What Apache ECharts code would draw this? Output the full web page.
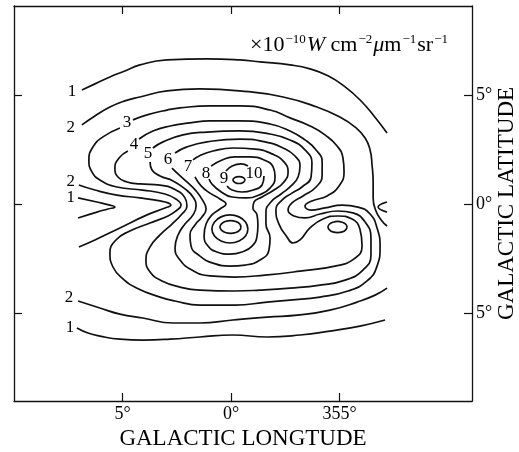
<!DOCTYPE html>
<html><head><meta charset="utf-8">
<script src="https://cdn.jsdelivr.net/npm/echarts@6/dist/echarts.min.js"></script>
<style>html,body{margin:0;padding:0;background:#fff}#c{width:519px;height:452px}</style>
</head><body><div id="c"></div>
<script>
// axis ticks (degrees; 355° = -5)
const lonTicks = [5, 0, -5];
const lonTickLabels = ['5°', '0°', '355°'];
const latTicks = [5, 0, -5];
const latTickLabels = ['5°', '0°', '5°'];

// contour lines [longitude, latitude]
const c1Upper = [[6.87,5.23],[6.27,5.51],[5.58,5.83],[4.89,6.10],[4.20,6.38],[2.95,6.61],[1.11,6.66],[-0.41,6.61],[-1.34,6.52],[-2.72,6.38],[-3.64,6.20],[-4.47,5.88],[-5.26,5.37],[-5.95,4.77],[-6.59,4.04],[-7.19,3.26]];
const c2Upper = [[6.87,3.63],[6.27,4.04],[5.58,4.45],[4.89,4.73],[4.20,4.91],[2.95,5.19],[1.43,5.28],[-0.41,5.19],[-2.40,4.91],[-3.96,4.45],[-5.02,3.99],[-5.72,3.53],[-6.18,3.03],[-6.41,2.48],[-6.50,1.79],[-6.55,1.01],[-6.55,0.28],[-6.68,-0.32],[-6.92,-0.73],[-7.19,-1.01]];
const c1RightNotch = [[-7.19,0.09],[-6.78,-0.14],[-7.19,-0.37]];
const c1LeftNotch = [[7.05,0.28],[6.18,0.09],[5.58,-0.05],[5.35,-0.14],[5.67,-0.23],[6.18,-0.37],[7.05,-0.64]];
const c2LeftNotch = [[7.01,0.87],[6.27,0.64],[5.26,0.41],[4.20,0.28],[3.27,0.14],[2.90,0.05],[2.77,-0.05],[3.04,-0.18],[3.87,-0.50],[5.12,-1.10],[6.27,-1.65],[7.01,-1.97]];
const c2Lower = [[7.05,-4.45],[6.04,-4.77],[5.12,-5.05],[4.06,-5.23],[2.67,-5.46],[1.43,-5.46],[-0.09,-5.32],[-1.66,-5.19],[-3.18,-5.09],[-4.56,-4.87],[-5.81,-4.50],[-6.64,-4.18],[-7.19,-3.86]];
const c1Lower = [[7.10,-5.69],[6.59,-5.92],[6.04,-6.06],[5.12,-6.20],[4.06,-6.24],[2.81,-6.20],[1.43,-6.10],[-0.09,-6.01],[-1.66,-6.10],[-3.18,-6.01],[-4.56,-5.83],[-5.94,-5.60],[-7.10,-5.32]];
const c3 = [[4.52,3.86],[3.87,4.09],[2.95,4.31],[2.35,4.41],[0.97,4.50],[-0.41,4.50],[-1.80,4.31],[-2.72,3.95],[-3.64,3.58],[-4.33,3.17],[-4.89,2.66],[-5.16,2.11],[-5.21,1.47],[-4.98,0.83],[-4.43,0.37],[-3.73,0.14],[-3.41,-0.09],[-3.69,-0.28],[-4.33,-0.18],[-5.12,-0.05],[-5.85,-0.14],[-6.41,-0.46],[-6.73,-1.10],[-6.87,-1.97],[-6.73,-2.85],[-6.27,-3.53],[-5.39,-3.99],[-4.10,-4.27],[-2.72,-4.41],[-1.66,-4.50],[-0.18,-4.64],[1.43,-4.64],[2.58,-4.45],[3.27,-4.27],[4.33,-3.86],[5.02,-3.40],[5.44,-2.89],[5.58,-2.25],[5.30,-1.65],[4.66,-1.24],[3.73,-0.87],[2.90,-0.55],[2.54,-0.32],[2.30,-0.05],[2.54,0.23],[3.04,0.46],[4.06,0.64],[5.26,0.78],[6.04,1.10],[6.41,1.47],[6.55,2.02],[6.36,2.62],[5.90,3.08],[5.12,3.49]];
const c4 = [[4.24,2.98],[3.60,3.35],[2.81,3.58],[1.89,3.72],[0.97,3.81],[-0.41,3.81],[-1.80,3.67],[-2.72,3.35],[-3.41,2.94],[-3.92,2.48],[-4.20,1.93],[-4.20,1.33],[-3.92,0.78],[-3.32,0.37],[-2.81,0.05],[-2.63,-0.28],[-2.90,-0.55],[-3.41,-0.64],[-4.10,-0.46],[-4.93,-0.32],[-5.62,-0.41],[-6.18,-0.83],[-6.45,-1.56],[-6.45,-2.34],[-6.08,-3.03],[-5.26,-3.49],[-4.10,-3.72],[-2.72,-3.86],[-1.34,-3.95],[-0.18,-3.99],[1.43,-3.95],[2.35,-3.81],[3.18,-3.53],[3.73,-3.12],[3.92,-2.57],[3.73,-1.97],[3.27,-1.42],[2.72,-0.92],[2.26,-0.46],[2.03,-0.09],[2.12,0.28],[2.54,0.64],[3.27,0.87],[4.20,0.92],[4.79,1.01],[5.21,1.24],[5.35,1.65],[5.16,2.11],[4.75,2.43]];
const c5 = [[3.60,2.57],[3.13,2.85],[2.21,3.17],[1.11,3.30],[-0.41,3.35],[-1.80,3.21],[-2.72,2.94],[-3.41,2.48],[-3.73,1.88],[-3.69,1.24],[-3.27,0.78],[-2.81,0.50],[-2.35,0.18],[-2.07,-0.28],[-2.21,-0.92],[-2.58,-1.51],[-2.86,-1.79],[-3.18,-1.65],[-3.64,-1.10],[-4.24,-0.69],[-4.93,-0.55],[-5.58,-0.69],[-5.94,-1.15],[-6.04,-1.93],[-5.67,-2.52],[-4.79,-2.85],[-3.18,-3.08],[-1.57,-3.26],[-0.18,-3.35],[0.97,-3.30],[1.80,-3.03],[2.35,-2.57],[2.58,-2.02],[2.44,-1.42],[2.12,-0.92],[1.75,-0.50],[1.61,-0.09],[1.75,0.32],[2.12,0.69],[2.67,1.06],[3.27,1.29],[3.64,1.56],[3.73,1.93]];
const c6 = [[2.58,2.34],[2.03,2.62],[1.11,2.85],[-0.41,2.98],[-1.57,2.85],[-2.40,2.57],[-2.95,2.20],[-3.18,1.74],[-3.09,1.24],[-2.77,0.83],[-2.31,0.46],[-1.84,0.09],[-1.61,-0.37],[-1.61,-0.92],[-1.80,-1.56],[-1.75,-2.11],[-1.34,-2.57],[-0.65,-2.80],[0.05,-2.85],[0.83,-2.71],[1.43,-2.39],[1.84,-1.93],[1.89,-1.42],[1.66,-0.96],[1.34,-0.60],[1.15,-0.23],[1.29,0.14],[1.61,0.60],[2.03,1.01],[2.44,1.38],[2.72,1.65]];
const c6PeakC = [[-5.35,-1.06],[-5.29,-1.18],[-5.13,-1.28],[-4.91,-1.31],[-4.69,-1.28],[-4.53,-1.18],[-4.47,-1.06],[-4.53,-0.93],[-4.69,-0.84],[-4.91,-0.80],[-5.13,-0.84],[-5.29,-0.93],[-5.35,-1.06]];
const c7 = [[1.75,2.02],[1.38,2.25],[0.83,2.43],[-0.09,2.57],[-1.11,2.52],[-1.89,2.30],[-2.44,1.93],[-2.63,1.47],[-2.44,1.01],[-1.98,0.64],[-1.43,0.32],[-1.06,0.09],[-1.01,-0.18],[-1.20,-0.50],[-1.24,-0.96],[-1.20,-1.47],[-0.97,-1.93],[-0.51,-2.20],[0.05,-2.30],[0.65,-2.20],[1.06,-1.93],[1.24,-1.47],[1.15,-0.92],[0.88,-0.50],[0.51,-0.23],[0.23,0.00],[0.51,0.23],[0.97,0.50],[1.38,0.83],[1.66,1.24]];
const c8PeakA = [[0.92,1.74],[0.41,2.02],[-0.18,2.16],[-0.88,2.16],[-1.52,2.02],[-1.94,1.70],[-2.03,1.24],[-1.80,0.73],[-1.29,0.41],[-0.69,0.28],[-0.05,0.32],[0.51,0.60],[0.88,0.92],[1.01,1.15]];
const c8PeakB = [[-0.78,-1.15],[-0.67,-1.47],[-0.37,-1.70],[0.05,-1.79],[0.46,-1.70],[0.76,-1.47],[0.88,-1.15],[0.76,-0.83],[0.46,-0.59],[0.05,-0.50],[-0.37,-0.59],[-0.67,-0.83],[-0.78,-1.15]];
const c9PeakATop = [[0.23,1.51],[-0.05,1.74],[-0.46,1.84],[-0.78,1.74]];
const c9PeakABottom = [[-1.52,1.29],[-1.43,0.87],[-1.01,0.64],[-0.51,0.55],[-0.05,0.64],[0.18,0.83]];
const c9PeakB = [[-0.46,-1.06],[-0.40,-1.20],[-0.22,-1.31],[0.02,-1.35],[0.26,-1.31],[0.44,-1.20],[0.51,-1.06],[0.44,-0.91],[0.26,-0.80],[0.02,-0.76],[-0.22,-0.80],[-0.40,-0.91],[-0.46,-1.06]];
const c10PeakA = [[-0.65,1.10],[-0.56,0.99],[-0.37,0.94],[-0.18,0.99],[-0.09,1.10],[-0.18,1.22],[-0.37,1.26],[-0.56,1.22],[-0.65,1.10]];

// contour level labels
const levelLabelText = ['1','2','3','4','5','6','7','8','9','10','2','1','2','1'];
const levelLabelPos = [[7.33,5.14],[7.38,3.53],[4.79,3.72],[4.47,2.71],[3.83,2.30],[2.90,2.02],[1.98,1.74],[1.15,1.42],[0.32,1.15],[-1.06,1.38],[7.38,1.01],[7.38,0.28],[7.47,-4.27],[7.42,-5.65]];

const SERIF = '"Liberation Serif","DejaVu Serif",serif';
const INK = '#000';

const lines = [c1Upper,c2Upper,c1RightNotch,c1LeftNotch,c2LeftNotch,c2Lower,c1Lower,c3,c4,c5,c6,c6PeakC,c7,c8PeakA,c8PeakB,c9PeakATop,c9PeakABottom,c9PeakB,c10PeakA];
const series = lines.map(d => ({
  type: 'line', data: d, smooth: 0.5, showSymbol: false, silent: true,
  xAxisIndex: 0, yAxisIndex: 0,
  lineStyle: { color: '#111', width: 1.7 }
}));
series.push({
  type: 'scatter', xAxisIndex: 0, yAxisIndex: 0, symbolSize: 2, silent: true,
  itemStyle: { color: 'rgba(255,255,255,0)', opacity: 1 },
  data: levelLabelPos.map((p, i) => ({ name: levelLabelText[i], value: p })),
  label: { show: true, position: 'inside', formatter: '{b}', fontFamily: SERIF, fontSize: 17, color: INK, opacity: 1, fontWeight: 'normal' },
  labelLayout: { hideOverlap: false },
  z: 5
});

const xBase = {
  type: 'value', min: -11.106, max: 10, inverse: true,
  axisLine: { show: true, onZero: false, lineStyle: { color: '#111', width: 1.3 } },
  axisTick: { show: true, inside: true, length: 8, customValues: lonTicks, lineStyle: { color: '#111', width: 1.2 } },
  splitLine: { show: false }
};
const yBase = {
  type: 'value', min: -9.037, max: 9.083,
  axisLine: { show: true, onZero: false, lineStyle: { color: '#111', width: 1.3 } },
  axisTick: { show: true, inside: true, length: 8, customValues: latTicks, lineStyle: { color: '#111', width: 1.2 } },
  splitLine: { show: false }
};

const chart = echarts.init(document.getElementById('c'), null, { renderer: 'canvas' });
chart.setOption({
  animation: false,
  backgroundColor: '#fff',
  title: {
    text: '{n|×10}{s|−10}{i|W}{n| cm}{s|−2}{i|μ}{n|m}{s|−1}{n|sr}{s|−1}',
    left: 245, top: 22,
    textStyle: {
      fontWeight: 'normal',
      rich: {
        n: { fontFamily: SERIF, fontSize: 22, fontWeight: 'normal', color: INK, lineHeight: 29, verticalAlign: 'bottom' },
        i: { fontFamily: SERIF, fontSize: 22, fontWeight: 'normal', fontStyle: 'italic', color: INK, lineHeight: 29, verticalAlign: 'bottom' },
        s: { fontFamily: SERIF, fontSize: 13, fontWeight: 'normal', color: INK, lineHeight: 16, verticalAlign: 'top', padding: [6, 1, 0, 1] }
      }
    }
  },
  grid: { left: 14, right: 47, top: 6, bottom: 51, containLabel: false, outerBoundsMode: 'none' },
  xAxis: [
    Object.assign({}, xBase, {
      position: 'bottom',
      axisLabel: { show: true, customValues: lonTicks, margin: 4, fontFamily: SERIF, fontSize: 18, color: INK,
        formatter: v => lonTickLabels[lonTicks.indexOf(v)] || '' },
      name: 'GALACTIC LONGTUDE', nameLocation: 'middle', nameGap: 25,
      nameTextStyle: { fontFamily: SERIF, fontSize: 23, color: INK }
    }),
    Object.assign({}, xBase, { position: 'top', axisLabel: { show: false } })
  ],
  yAxis: [
    Object.assign({}, yBase, {
      position: 'right',
      axisLabel: { show: true, customValues: latTicks, margin: 4, fontFamily: SERIF, fontSize: 18, color: INK,
        formatter: v => latTickLabels[latTicks.indexOf(v)] || '' },
      name: 'GALACTIC LATITUDE', nameLocation: 'middle', nameGap: 23, nameRotate: 90, nameMoveOverlap: false,
      nameTextStyle: { fontFamily: SERIF, fontSize: 23, color: INK }
    }),
    Object.assign({}, yBase, { position: 'left', axisLabel: { show: false } })
  ],
  series: series
});
</script>
</body></html>
